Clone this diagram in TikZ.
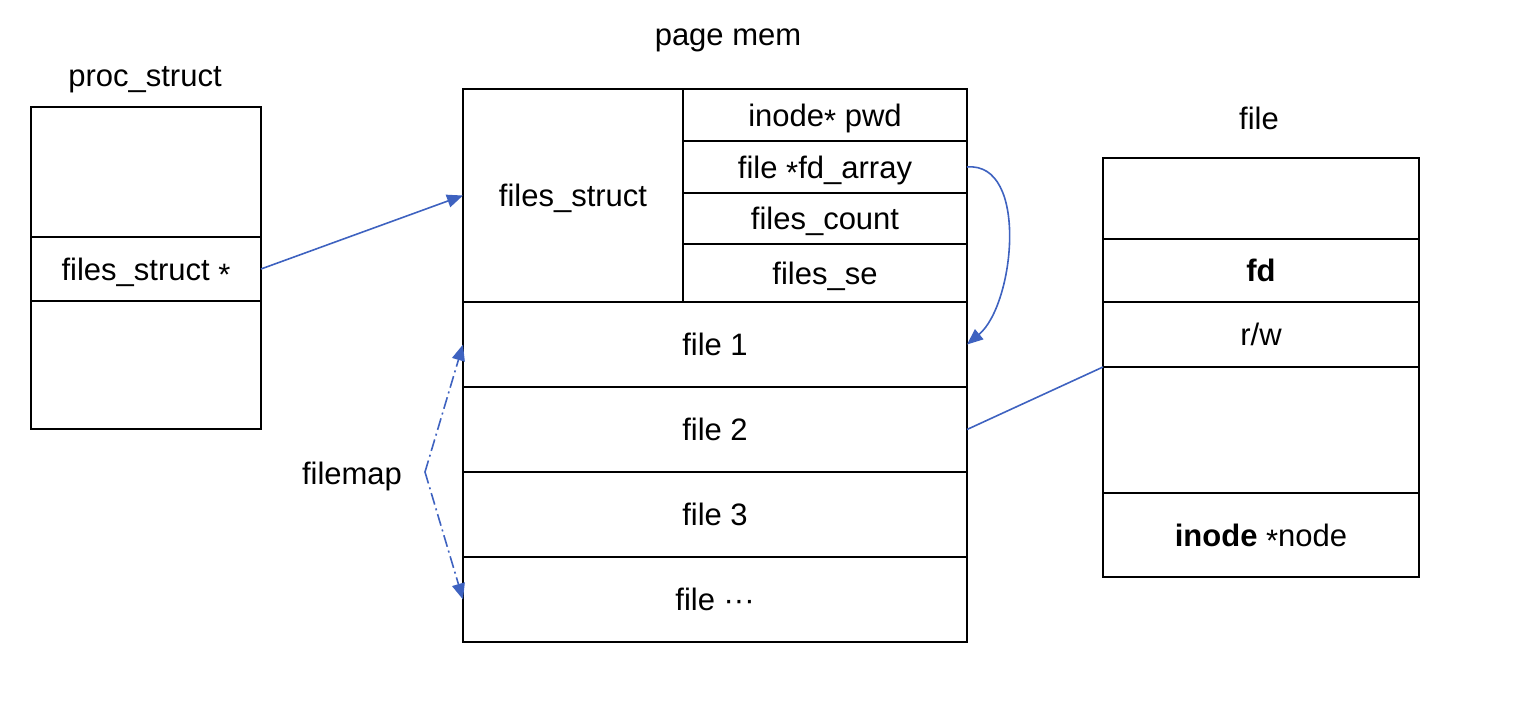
\documentclass[tikz,border=0pt]{standalone}
\usepackage{fontspec}
\setmainfont{Liberation Sans}
\usetikzlibrary{arrows.meta}
\definecolor{arrowblue}{RGB}{62,98,192}
\begin{document}
\begin{tikzpicture}[x=0.5pt,y=-0.5pt,
  every node/.style={font=\fontsize{15.5}{18}\selectfont,text depth=0pt},
  cell/.style={draw=black,line width=1pt,inner sep=0pt,outer sep=0pt},
  title/.style={inner sep=0pt},
  conn/.style={draw=arrowblue,line width=0.8pt},
  tip/.style={-{Triangle[length=8pt,width=6.5pt]}}
]
\useasboundingbox (0,0) rectangle (1528,712);
% proc_struct
\node[title] (tproc) at (145,76) {proc\_struct};
\node[cell,minimum width=115pt,minimum height=65pt] (p1) at (146,172) {};
\node[cell,minimum width=115pt,minimum height=32pt] (p2) at (146,269) {files\_struct \raisebox{-0.35ex}{*}};
\node[cell,minimum width=115pt,minimum height=64pt] (p3) at (146,365) {};
% page mem
\node[title] (tpage) at (728,37) {page mem};
\node[cell,minimum width=110pt,minimum height=106.5pt] (fs) at (573,195.5) {files\_struct};
\node[cell,minimum width=142pt,minimum height=26pt] (pwd) at (825,115) {inode\raisebox{-0.35ex}{*} pwd};
\node[cell,minimum width=142pt,minimum height=26pt] (fda) at (825,167) {file \raisebox{-0.35ex}{*}fd\_array};
\node[cell,minimum width=142pt,minimum height=25.5pt] (cnt) at (825,218.5) {files\_count};
\node[cell,minimum width=142pt,minimum height=29pt] (fse) at (825,273) {files\_se};
\node[cell,minimum width=252pt,minimum height=42.5pt] (f1) at (715,344.5) {file 1};
\node[cell,minimum width=252pt,minimum height=42.5pt] (f2) at (715,429.5) {file 2};
\node[cell,minimum width=252pt,minimum height=42.5pt] (f3) at (715,514.5) {file 3};
\node[cell,minimum width=252pt,minimum height=42.5pt] (f4) at (715,599.5) {file ···};
% file
\node[title] (tfile) at (1259,118) {file};
\node[cell,minimum width=158pt,minimum height=40.5pt] (r1) at (1261,198.5) {};
\node[cell,minimum width=158pt,minimum height=31.5pt] (r2) at (1261,270.5) {\textbf{fd}};
\node[cell,minimum width=158pt,minimum height=32.5pt] (r3) at (1261,334.5) {r/w};
\node[cell,minimum width=158pt,minimum height=63pt] (r4) at (1261,430) {};
\node[cell,minimum width=158pt,minimum height=42pt] (r5) at (1261,535) {\textbf{inode} \raisebox{-0.35ex}{*}node};
% filemap
\node[title] (fm) at (352,473) {filemap};
\coordinate (apex) at (425,472);
% connectors
\draw[conn,tip] (p2.east) -- (fs.west);
\draw[conn,tip] (fda.east) to[out=5,in=40,looseness=0.9] (f1.east);
\draw[conn] (f2.east) -- (r4.north west);
\draw[conn,tip,dash pattern=on 6pt off 2pt on 1pt off 2pt] (apex) -- (f1.west);
\draw[conn,tip,dash pattern=on 6pt off 2pt on 1pt off 2pt] (apex) -- (f4.west);
\end{tikzpicture}
\end{document}
